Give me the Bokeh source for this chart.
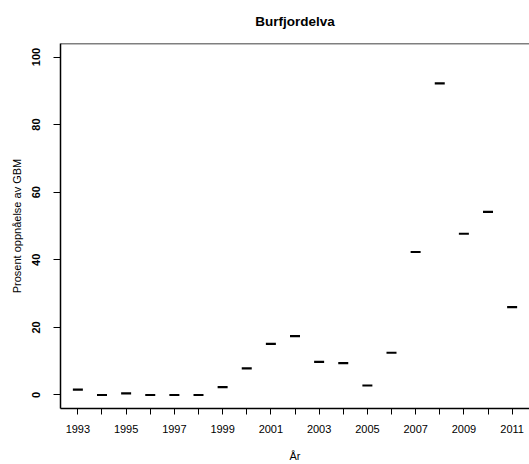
from bokeh.plotting import figure
from bokeh.models import FixedTicker, Range1d, Span, ColumnDataSource
from bokeh.embed import file_html
from bokeh.resources import INLINE

years = [1993, 1994, 1995, 1996, 1997, 1998, 1999, 2000, 2001, 2002,
         2003, 2004, 2005, 2006, 2007, 2008, 2009, 2010, 2011]
values = [1.6, 0.0, 0.5, 0.0, 0.0, 0.0, 2.3, 7.9, 15.1, 17.4,
          9.8, 9.4, 2.8, 12.5, 42.3, 92.2, 47.7, 54.2, 26.0]
y_ticks = [0, 20, 40, 60, 80, 100]
x_label_years = [1993, 1995, 1997, 1999, 2001, 2003, 2005, 2007, 2009, 2011]

FONT = "Liberation Sans"

p = figure(width=529, height=464, output_backend="svg", toolbar_location=None,
           x_range=Range1d(1992.28, 2011.72), y_range=Range1d(-4, 104),
           min_border_left=60, min_border_right=0, min_border_top=43,
           min_border_bottom=56, title="Burfjordelva")

src = ColumnDataSource(dict(x=years, y=values))
p.scatter("x", "y", source=src, marker="dash", size=10, line_width=2.2,
          line_color="black", fill_color="black")

p.grid.visible = False
p.outline_line_color = None
p.background_fill_color = "white"
p.border_fill_color = "white"

top = Span(location=104, dimension="width", line_color="black", line_width=1.5)
p.add_layout(top)

# title
p.title.text_font = FONT
p.title.text_font_size = "13.5px"
p.title.text_font_style = "bold"
p.title.text_color = "black"
p.title.align = "center"
p.title.vertical_align = "top"
p.title.offset = 0
p.title.standoff = 26

# x axis
xa = p.xaxis[0]
xa.ticker = FixedTicker(ticks=years)
xa.major_label_overrides = {y: (str(y) if y in x_label_years else "") for y in years}
xa.minor_tick_line_color = None
xa.major_tick_out = 6
xa.major_tick_in = 0
xa.major_label_standoff = 10
xa.axis_line_width = 1.5
xa.major_tick_line_width = 1
xa.major_label_text_font = FONT
xa.major_label_text_font_size = "11px"
xa.major_label_text_color = "black"
xa.axis_label = "År"
xa.axis_label_text_font = FONT
xa.axis_label_text_font_size = "11px"
xa.axis_label_text_font_style = "normal"
xa.axis_label_text_color = "black"
xa.axis_label_standoff = 14

# y axis
ya = p.yaxis[0]
ya.ticker = FixedTicker(ticks=y_ticks)
ya.minor_tick_line_color = None
ya.major_tick_out = 7
ya.major_tick_in = 0
ya.major_label_orientation = "vertical"
ya.major_label_standoff = 13
ya.axis_line_width = 1.5
ya.major_label_text_font = FONT
ya.major_label_text_font_size = "11px"
ya.major_label_text_font_style = "bold"
ya.major_label_text_color = "black"
ya.axis_label = "Prosent oppnåelse av GBM"
ya.axis_label_text_font = FONT
ya.axis_label_text_font_size = "11px"
ya.axis_label_text_font_style = "normal"
ya.axis_label_text_color = "black"
ya.axis_label_standoff = 7

open("out.html", "w").write(file_html(p, INLINE))
